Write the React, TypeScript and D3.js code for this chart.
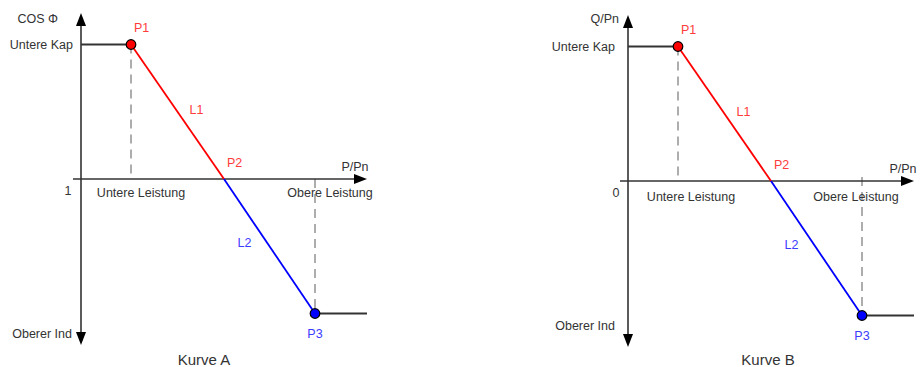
import React from "react";
import * as d3 from "d3";

// ---- data ----
const pointNames = ["P1", "P2", "P3"];
const pointP = [0.25, 0.715, 1.17]; // P/Pn (abstract units)
const pointQ = [1, 0, -1]; // normalized level: +1 Untere Kap, -1 Oberer Ind
const segmentNames = ["L1", "L2"];
const xTickLabels = ["Untere Leistung", "Obere Leistung"];
const yLevelLabels = ["Untere Kap", "Oberer Ind"];
const panelTitles = ["Kurve A", "Kurve B"];
const yAxisTitles = ["COS \u03A6", "Q/Pn"];
const originLabels = ["1", "0"];
const xAxisTitle = "P/Pn";
const axisExtentP = [-0.04, 1.43];
const axisExtentQ = [-1.234, 1.234];
const flatEndP = 1.43;

const RED = "#ff0000";
const BLUE = "#0000ff";
const RED_TXT = "#ff3c3c";
const BLUE_TXT = "#3c3cff";
const INK = "#333333";
const FONT = "'Liberation Sans', Arial, sans-serif";

type Layout = {
  x0: number;
  y0: number;
  yTitleEnd: number;
  kapDx: number;
  indDx: number;
  indDy: number;
  originX: number;
  tickDx: number[];
  tickDy: number;
  pPnX: number;
  titleX: number;
};

const layouts: Layout[] = [
  { x0: 81, y0: 179, yTitleEnd: 58, kapDx: -8, indDx: -9, indDy: 24, originX: 68, tickDx: [10, 15], tickDy: 18, pPnX: 355, titleX: 204 },
  { x0: 628, y0: 181, yTitleEnd: 619, kapDx: -13, indDx: -13, indDy: 14, originX: 616, tickDx: [13, -6], tickDy: 20, pPnX: 903, titleX: 768 },
];

function Panel({ idx }: { idx: number }) {
  const L = layouts[idx];
  const x = d3.scaleLinear().domain([0, 1]).range([L.x0, L.x0 + 200]);
  const y = d3.scaleLinear().domain([-1, 1]).range([L.y0 + 134.5, L.y0 - 134.5]);
  const pts = pointNames.map((n, i) => ({ n, px: x(pointP[i]), py: y(pointQ[i]) }));
  const line = d3.line<[number, number]>();

  const yTop = y(axisExtentQ[1]);
  const yBot = y(axisExtentQ[0]);
  const xL = x(axisExtentP[0]);
  const xR = x(axisExtentP[1]);
  const ax = x(0);
  const ay = y(0);
  const ah = 13; // arrow head length
  const aw = 5; // arrow half width

  const segColors = [RED, BLUE];
  const segTxt = [RED_TXT, BLUE_TXT];
  const ptTxt = [RED_TXT, RED_TXT, BLUE_TXT];
  const ptFill = [RED, null, BLUE];

  const fs = 12.5;

  return (
    <g fontFamily={FONT}>
      {/* dashed guides */}
      <path d={line([[pts[0].px, pts[0].py], [pts[0].px, ay]]) || ""} stroke="#999" strokeWidth={1.6} strokeDasharray="9,6" fill="none" />
      <path d={line([[pts[2].px, ay - (idx === 1 ? 4 : 0)], [pts[2].px, pts[2].py]]) || ""} stroke="#999" strokeWidth={1.6} strokeDasharray="9,6" fill="none" />

      {/* axes */}
      <path d={line([[ax, yTop + ah - 1], [ax, yBot - ah + 1]]) || ""} stroke={INK} strokeWidth={1.6} fill="none" />
      <path d={`M${ax},${yTop}L${ax - aw},${yTop + ah}L${ax + aw},${yTop + ah}Z`} fill="#000" />
      <path d={`M${ax},${yBot}L${ax - aw},${yBot - ah}L${ax + aw},${yBot - ah}Z`} fill="#000" />
      <path d={line([[xL, ay], [xR - ah + 1, ay]]) || ""} stroke={INK} strokeWidth={1.6} fill="none" />
      <path d={`M${xR},${ay}L${xR - ah},${ay - aw}L${xR - ah},${ay + aw}Z`} fill="#000" />

      {/* flat segments */}
      <path d={line([[ax, pts[0].py], [pts[0].px, pts[0].py]]) || ""} stroke={INK} strokeWidth={2} fill="none" />
      <path d={line([[pts[2].px, pts[2].py], [x(flatEndP), pts[2].py]]) || ""} stroke={INK} strokeWidth={2} fill="none" />

      {/* sloped segments */}
      {segmentNames.map((s, i) => (
        <path key={s} d={line([[pts[i].px, pts[i].py], [pts[i + 1].px, pts[i + 1].py]]) || ""} stroke={segColors[i]} strokeWidth={1.8} fill="none" />
      ))}

      {/* points */}
      {pts.map((p, i) =>
        ptFill[i] ? <circle key={p.n} cx={p.px} cy={p.py} r={4.8} fill={ptFill[i] as string} stroke="#000" strokeWidth={1.2} /> : null
      )}

      {/* point labels */}
      <text x={pts[0].px + 3} y={pts[0].py - 13} fill={ptTxt[0]} fontSize={fs}>{pts[0].n}</text>
      <text x={pts[1].px + 3} y={pts[1].py - 12} fill={ptTxt[1]} fontSize={fs}>{pts[1].n}</text>
      <text x={pts[2].px} y={pts[2].py + 24} fill={ptTxt[2]} fontSize={fs} textAnchor="middle">{pts[2].n}</text>

      {/* segment labels */}
      {segmentNames.map((s, i) => {
        const mx = (pts[i].px + pts[i + 1].px) / 2;
        const my = (pts[i].py + pts[i + 1].py) / 2;
        return i === 0 ? (
          <text key={s} x={mx + 12} y={my + 2} fill={segTxt[i]} fontSize={fs}>{s}</text>
        ) : (
          <text key={s} x={mx - 18} y={my + 1} fill={segTxt[i]} fontSize={fs} textAnchor="end">{s}</text>
        );
      })}

      {/* axis texts */}
      <text x={L.yTitleEnd} y={23} fill={INK} fontSize={fs} textAnchor="end">{yAxisTitles[idx]}</text>
      <text x={ax + L.kapDx} y={pts[0].py + 4.5} fill={INK} fontSize={fs} textAnchor="end">{yLevelLabels[0]}</text>
      <text x={ax + L.indDx} y={pts[2].py + L.indDy} fill={INK} fontSize={fs} textAnchor="end">{yLevelLabels[1]}</text>
      <text x={L.originX} y={ay + 16} fill={INK} fontSize={fs} textAnchor="middle">{originLabels[idx]}</text>
      <text x={pts[0].px + L.tickDx[0]} y={ay + L.tickDy} fill={INK} fontSize={fs} textAnchor="middle">{xTickLabels[0]}</text>
      <text x={pts[2].px + L.tickDx[1]} y={ay + L.tickDy} fill={INK} fontSize={fs} textAnchor="middle">{xTickLabels[1]}</text>
      <text x={L.pPnX} y={ay - 8} fill={INK} fontSize={fs} textAnchor="middle">{xAxisTitle}</text>
      <text x={L.titleX} y={365} fill={INK} fontSize={15} textAnchor="middle">{panelTitles[idx]}</text>
    </g>
  );
}

export default function App() {
  return (
    <svg width={920} height={367} style={{ position: "absolute", left: 0, top: 0, background: "#fff" }}>
      <rect width={920} height={367} fill="#fff" />
      <Panel idx={0} />
      <Panel idx={1} />
    </svg>
  );
}
